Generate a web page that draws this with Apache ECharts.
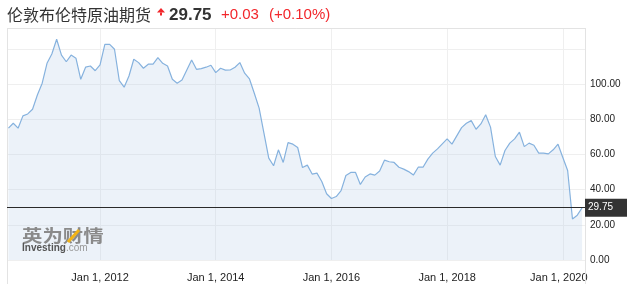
<!DOCTYPE html>
<html><head><meta charset="utf-8">
<script src="https://cdn.jsdelivr.net/npm/echarts@6/dist/echarts.min.js"></script>
<style>html,body{margin:0;padding:0;background:#fff}#c{width:627px;height:284px}</style>
</head><body><div id="c"></div>
<script>
const months = [
 '2010-06','2010-07','2010-08','2010-09','2010-10','2010-11','2010-12',
 '2011-01','2011-02','2011-03','2011-04','2011-05','2011-06','2011-07','2011-08','2011-09','2011-10','2011-11','2011-12',
 '2012-01','2012-02','2012-03','2012-04','2012-05','2012-06','2012-07','2012-08','2012-09','2012-10','2012-11','2012-12',
 '2013-01','2013-02','2013-03','2013-04','2013-05','2013-06','2013-07','2013-08','2013-09','2013-10','2013-11','2013-12',
 '2014-01','2014-02','2014-03','2014-04','2014-05','2014-06','2014-07','2014-08','2014-09','2014-10','2014-11','2014-12',
 '2015-01','2015-02','2015-03','2015-04','2015-05','2015-06','2015-07','2015-08','2015-09','2015-10','2015-11','2015-12',
 '2016-01','2016-02','2016-03','2016-04','2016-05','2016-06','2016-07','2016-08','2016-09','2016-10','2016-11','2016-12',
 '2017-01','2017-02','2017-03','2017-04','2017-05','2017-06','2017-07','2017-08','2017-09','2017-10','2017-11','2017-12',
 '2018-01','2018-02','2018-03','2018-04','2018-05','2018-06','2018-07','2018-08','2018-09','2018-10','2018-11','2018-12',
 '2019-01','2019-02','2019-03','2019-04','2019-05','2019-06','2019-07','2019-08','2019-09','2019-10','2019-11','2019-12',
 '2020-01','2020-02','2020-03','2020-04','2020-05'
];
const prices = [
 75.0, 77.8, 75.0, 82.0, 83.1, 85.8, 93.9,
 100.6, 111.9, 117.2, 125.6, 116.6, 112.8, 116.6, 114.8, 102.8, 109.7, 110.4, 107.7,
 111.0, 122.7, 122.7, 119.9, 102.0, 98.3, 104.7, 114.2, 112.3, 109.1, 111.4, 111.4,
 115.1, 111.9, 110.4, 102.8, 100.6, 102.4, 108.1, 113.8, 108.5, 108.9, 109.7, 110.8,
 106.6, 109.1, 108.0, 108.1, 109.7, 112.3, 106.3, 103.0, 94.9, 86.4, 72.2, 58.0,
 53.6, 62.7, 55.5, 66.8, 65.9, 64.0, 52.6, 54.0, 48.9, 49.4, 44.7, 37.7,
 35.0, 36.1, 39.5, 48.1, 49.8, 49.8, 43.0, 47.2, 49.0, 48.3, 50.6, 56.8,
 55.9, 55.5, 52.8, 51.7, 50.3, 48.3, 52.8, 52.8, 57.4, 60.8, 63.2, 66.1,
 68.9, 65.9, 70.6, 75.3, 77.8, 79.3, 74.4, 77.4, 82.6, 75.6, 58.9, 54.0,
 62.3, 66.5, 68.9, 72.7, 64.5, 66.5, 65.3, 60.8, 60.8, 60.4, 62.7, 65.9,
 58.3, 50.9, 23.3, 25.5, 29.75
];
const xTickMonths = ['2012-01','2014-01','2016-01','2018-01','2020-01'];
const xTickLabels = ['Jan 1, 2012','Jan 1, 2014','Jan 1, 2016','Jan 1, 2018','Jan 1, 2020'];
const yTickValues = [0, 20, 40, 60, 80, 100];
const lastPrice = 29.75;
const titleText = '伦敦布伦特原油期货';
const priceText = '29.75';
const changeText = '+0.03';
const changePctText = '(+0.10%)';

function monthIndex(s){ const p = s.split('-').map(Number); return (p[0]-2012)*12 + (p[1]-1); }
const seriesData = months.map((m,i) => [monthIndex(m), prices[i]]);
const xTickVals = xTickMonths.map(monthIndex);

const chart = echarts.init(document.getElementById('c'), null, {renderer:'canvas'});
const frame = '#e3e3e3';
chart.setOption({
  animation: false,
  grid: {left: 7, right: 42, top: 28, bottom: 24, containLabel: false},
  xAxis: {
    type: 'value', min: -19.3, max: 100.6,
    axisLine: {show: false},
    axisTick: {show: false, customValues: xTickVals},
    axisLabel: {
      customValues: xTickVals, margin: 12, fontSize: 11, color: '#222', fontFamily: 'Liberation Sans, Arial',
      formatter: v => { const i = xTickVals.indexOf(v); if (i < 0) return ''; return i === xTickVals.length-1 ? '{s|' + xTickLabels[i] + '}' : xTickLabels[i]; },
      rich: {s: {fontSize: 11, color: '#222', fontFamily: 'Liberation Sans, Arial', padding: [0, 8, 0, 0]}}
    },
    splitLine: {show: true, lineStyle: {color: '#efefef', width: 1}}
  },
  yAxis: {
    type: 'value', position: 'right', min: 0, max: 132, interval: 20,
    axisLine: {show: false}, axisTick: {show: false},
    axisLabel: {margin: 5, fontSize: 10, color: '#222', fontFamily: 'Liberation Sans, Arial',
      formatter: v => yTickValues.indexOf(v) >= 0 ? v.toFixed(2) : ''},
    splitLine: {show: true, lineStyle: {color: '#efefef', width: 1}}
  },
  series: [{
    type: 'line', data: seriesData, showSymbol: false, symbol: 'none',
    lineStyle: {color: '#86b2de', width: 1.2},
    areaStyle: {color: 'rgba(187,208,232,0.4)', origin: 'start'},
    markLine: {
      silent: true, symbol: ['none','none'],
      data: [{yAxis: lastPrice}],
      lineStyle: {color: '#2a2a2a', width: 1, type: 'solid'},
      label: {position: 'end', distance: 0, formatter: priceText, color: '#fff', backgroundColor: '#333',
        fontSize: 10, fontFamily: 'Liberation Sans, Arial', padding: [4, 14, 4, 3]}
    }
  }],
  graphic: [
    {type: 'line', shape: {x1: 7.5, y1: 28, x2: 7.5, y2: 284}, style: {stroke: frame, lineWidth: 1}, z: 1},
    {type: 'line', shape: {x1: 585.5, y1: 28, x2: 585.5, y2: 284}, style: {stroke: frame, lineWidth: 1}, z: 1},
    {type: 'line', shape: {x1: 7, y1: 28.5, x2: 586, y2: 28.5}, style: {stroke: frame, lineWidth: 1}, z: 1},
    {type: 'text', x: 7, y: 15, style: {text: titleText, font: '16px "Noto Sans CJK SC"', fill: '#333', verticalAlign: 'middle'}},
    {type: 'polygon', shape: {points: [[157,12.5],[161,8],[165,12.5]]}, style: {fill: '#f2262b'}},
    {type: 'rect', shape: {x: 160, y: 12.5, width: 2, height: 3}, style: {fill: '#f2262b'}},
    {type: 'text', x: 169, y: 15, style: {text: priceText, font: 'bold 17px "Liberation Sans", Arial', fill: '#333', verticalAlign: 'middle'}},
    {type: 'text', x: 221, y: 15, style: {text: changeText, font: '15px "Liberation Sans", Arial', fill: '#f2262b', verticalAlign: 'middle'}},
    {type: 'text', x: 269, y: 15, style: {text: changePctText, font: '15px "Liberation Sans", Arial', fill: '#f2262b', verticalAlign: 'middle'}},
    {type: 'text', x: 22, y: 236, scaleX: 1.2, style: {text: '英为财情', font: 'bold 17px "Noto Sans CJK SC"', fill: '#8a8a8a', verticalAlign: 'middle'}, z: 5},
    {type: 'line', shape: {x1: 68, y1: 242, x2: 79, y2: 230}, style: {stroke: '#f2b315', lineWidth: 3}, z: 6},
    {type: 'text', x: 22, y: 248, style: {text: '{a|Investing}{b|.com}', verticalAlign: 'middle',
      rich: {a: {font: 'bold 10px "Liberation Sans", Arial', fill: '#555'}, b: {font: '10px "Liberation Sans", Arial', fill: '#999'}}}, z: 5}
  ]
});
</script></body></html>
